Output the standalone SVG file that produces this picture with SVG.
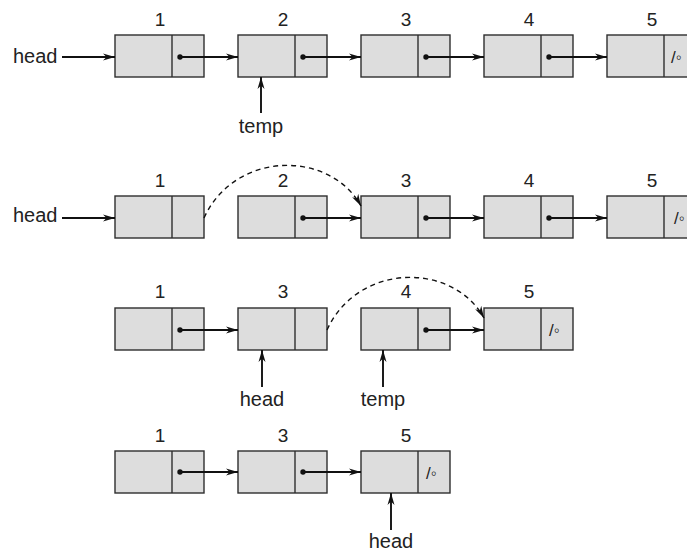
<svg xmlns="http://www.w3.org/2000/svg" width="687" height="552" viewBox="0 0 687 552">
<style>
.box{fill:#dddddd;stroke:#2e2e2e;stroke-width:1.4}
.div{stroke:#2e2e2e;stroke-width:1.4}
.num{font-family:"Liberation Sans",Arial,sans-serif;font-size:19px;fill:#222222;text-anchor:middle}
.lbl{font-family:"Liberation Sans",Arial,sans-serif;font-size:20px;fill:#222222}
.nil{font-family:"Liberation Sans","DejaVu Sans",sans-serif;font-size:17px;fill:#222222}
.ar{fill:none;stroke:#111111;stroke-width:1.9;marker-end:url(#ah)}
.dash{fill:none;stroke:#111111;stroke-width:1.4;stroke-dasharray:5 4;marker-end:url(#ah)}
.dot{fill:#111111}
</style>
<defs>
<marker id="ah" markerUnits="userSpaceOnUse" markerWidth="13" markerHeight="8" refX="12" refY="4" orient="auto">
<path d="M0,0.5 L12,4 L0,7.5 L3.5,4 Z" fill="#111111"/>
</marker>
</defs>

<!-- Row 1 -->
<g id="r1n1"><rect class="box" x="115" y="35" width="89" height="42"/><line class="div" x1="172" y1="35" x2="172" y2="77"/><text class="num" x="160" y="26">1</text></g>
<g id="r1n2"><rect class="box" x="238" y="35" width="89" height="42"/><line class="div" x1="295" y1="35" x2="295" y2="77"/><text class="num" x="283" y="26">2</text></g>
<g id="r1n3"><rect class="box" x="361" y="35" width="89" height="42"/><line class="div" x1="418" y1="35" x2="418" y2="77"/><text class="num" x="406" y="26">3</text></g>
<g id="r1n4"><rect class="box" x="484" y="35" width="89" height="42"/><line class="div" x1="541" y1="35" x2="541" y2="77"/><text class="num" x="529" y="26">4</text></g>
<g id="r1n5"><rect class="box" x="607" y="35" width="89" height="42"/><line class="div" x1="664" y1="35" x2="664" y2="77"/><text class="num" x="652" y="26">5</text><text class="nil" x="671" y="63">/◦</text></g>
<text class="lbl" x="13" y="63">head</text>
<text class="lbl" x="261" y="133" text-anchor="middle">temp</text>

<!-- Row 2 -->
<g id="r2n1"><rect class="box" x="115" y="196" width="89" height="42"/><line class="div" x1="172" y1="196" x2="172" y2="238"/><text class="num" x="160" y="187">1</text></g>
<g id="r2n2"><rect class="box" x="238" y="196" width="89" height="42"/><line class="div" x1="295" y1="196" x2="295" y2="238"/><text class="num" x="283" y="187">2</text></g>
<g id="r2n3"><rect class="box" x="361" y="196" width="89" height="42"/><line class="div" x1="418" y1="196" x2="418" y2="238"/><text class="num" x="406" y="187">3</text></g>
<g id="r2n4"><rect class="box" x="484" y="196" width="89" height="42"/><line class="div" x1="541" y1="196" x2="541" y2="238"/><text class="num" x="529" y="187">4</text></g>
<g id="r2n5"><rect class="box" x="607" y="196" width="89" height="42"/><line class="div" x1="664" y1="196" x2="664" y2="238"/><text class="num" x="652" y="187">5</text><text class="nil" x="674" y="224">/◦</text></g>
<text class="lbl" x="13" y="222">head</text>

<!-- Row 3 -->
<g id="r3n1"><rect class="box" x="115" y="308" width="89" height="42"/><line class="div" x1="172" y1="308" x2="172" y2="350"/><text class="num" x="160" y="298">1</text></g>
<g id="r3n3"><rect class="box" x="238" y="308" width="89" height="42"/><line class="div" x1="295" y1="308" x2="295" y2="350"/><text class="num" x="283" y="298">3</text></g>
<g id="r3n4"><rect class="box" x="361" y="308" width="89" height="42"/><line class="div" x1="418" y1="308" x2="418" y2="350"/><text class="num" x="406" y="298">4</text></g>
<g id="r3n5"><rect class="box" x="484" y="308" width="89" height="42"/><line class="div" x1="541" y1="308" x2="541" y2="350"/><text class="num" x="529" y="298">5</text><text class="nil" x="549" y="336">/◦</text></g>
<text class="lbl" x="262" y="406" text-anchor="middle">head</text>
<text class="lbl" x="383" y="406" text-anchor="middle">temp</text>

<!-- Row 4 -->
<g id="r4n1"><rect class="box" x="115" y="451" width="89" height="42"/><line class="div" x1="172" y1="451" x2="172" y2="493"/><text class="num" x="160" y="442">1</text></g>
<g id="r4n3"><rect class="box" x="238" y="451" width="89" height="42"/><line class="div" x1="295" y1="451" x2="295" y2="493"/><text class="num" x="283" y="442">3</text></g>
<g id="r4n5"><rect class="box" x="361" y="451" width="89" height="42"/><line class="div" x1="418" y1="451" x2="418" y2="493"/><text class="num" x="406" y="442">5</text><text class="nil" x="426" y="479">/◦</text></g>
<text class="lbl" x="391" y="548" text-anchor="middle">head</text>

<g id="connectors">
<!-- row 1 -->
<path class="ar" d="M62,57 L115,57"/>
<circle class="dot" cx="180" cy="57" r="2.7"/><path class="ar" d="M180,57 L238,57"/>
<circle class="dot" cx="303" cy="57" r="2.7"/><path class="ar" d="M303,57 L361,57"/>
<circle class="dot" cx="426" cy="57" r="2.7"/><path class="ar" d="M426,57 L484,57"/>
<circle class="dot" cx="549" cy="57" r="2.7"/><path class="ar" d="M549,57 L607,57"/>
<path class="ar" d="M261,113 L261,77"/>
<!-- row 2 -->
<path class="ar" d="M62,218 L115,218"/>
<path class="dash" d="M204,218 C235,150 330,150 361,206"/>
<circle class="dot" cx="303" cy="218" r="2.7"/><path class="ar" d="M303,218 L361,218"/>
<circle class="dot" cx="426" cy="218" r="2.7"/><path class="ar" d="M426,218 L484,218"/>
<circle class="dot" cx="549" cy="218" r="2.7"/><path class="ar" d="M549,218 L607,218"/>
<!-- row 3 -->
<circle class="dot" cx="180" cy="330" r="2.7"/><path class="ar" d="M180,330 L238,330"/>
<path class="dash" d="M327,330 C358,262 453,262 484,318"/>
<circle class="dot" cx="426" cy="330" r="2.7"/><path class="ar" d="M426,330 L484,330"/>
<path class="ar" d="M262,387 L262,350"/>
<path class="ar" d="M383,387 L383,350"/>
<!-- row 4 -->
<circle class="dot" cx="180" cy="472" r="2.7"/><path class="ar" d="M180,472 L238,472"/>
<circle class="dot" cx="303" cy="472" r="2.7"/><path class="ar" d="M303,472 L361,472"/>
<path class="ar" d="M391,530 L391,493"/>
</g>
</svg>
